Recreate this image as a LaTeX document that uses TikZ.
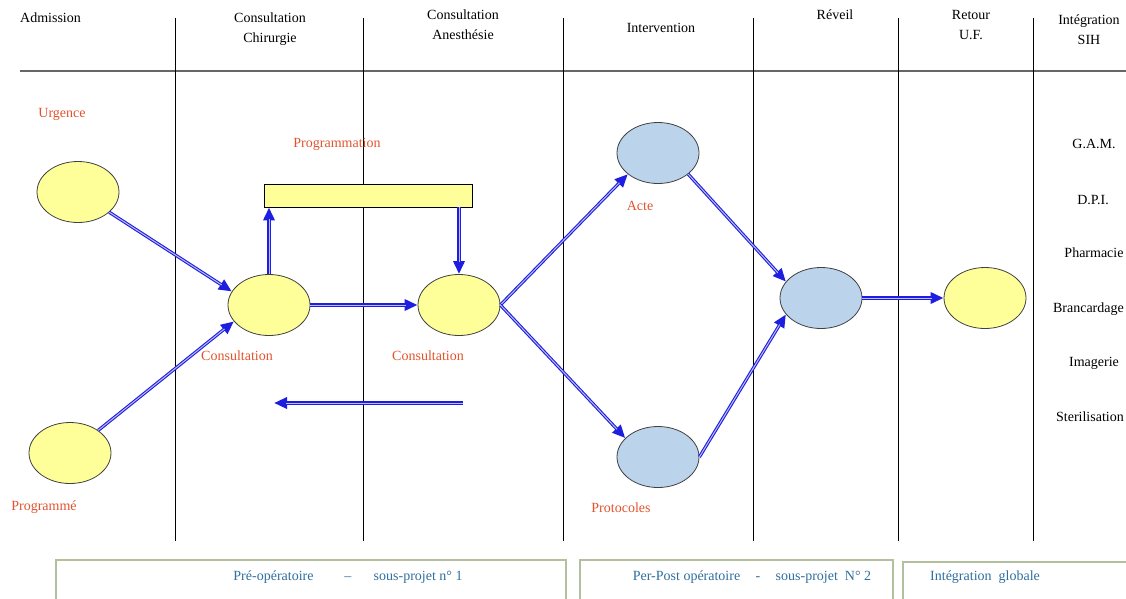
\documentclass[tikz,border=0pt]{standalone}
\usepackage{fontspec}
\setmainfont{Liberation Serif}
\usetikzlibrary{shapes.geometric,arrows.meta,positioning}
\definecolor{jaune}{RGB}{255,255,153}
\definecolor{bleuclair}{RGB}{187,212,236}
\definecolor{orange}{RGB}{226,83,45}
\definecolor{fluxbleu}{RGB}{30,30,225}
\definecolor{phasetxt}{RGB}{47,110,158}
\definecolor{phasebord}{RGB}{178,192,158}

\begin{document}
\begin{tikzpicture}[x=1pt, y=-1pt,
    font=\fontsize{14}{20}\selectfont,
    couloir/.style={draw=black, line width=0.9pt},
    entete/.style={align=center, inner sep=0pt},
    etape/.style={ellipse, draw=black!75, line width=0.8pt, minimum width=82, minimum height=61, inner sep=0pt},
    etapej/.style={etape, fill=jaune},
    etapeb/.style={etape, fill=bleuclair},
    lbl/.style={text=orange, inner sep=0pt},
    sih/.style={inner sep=0pt},
    flux/.style={draw=fluxbleu, line width=3.2pt, -{Triangle[length=13pt,width=11pt]},
        postaction={draw=white!70!fluxbleu, line width=1pt, -, shorten >=12pt}},
    cadre/.style={draw=phasebord, line width=1.2pt},
    phase/.style={text=phasetxt, inner sep=0pt}
]
\useasboundingbox (0,0) rectangle (1126,598);
\clip (0,0) rectangle (1126,598);

% Couloirs
\draw[draw=black!60, line width=2pt] (20,71) -- (1126,71);
\foreach \x in {175,363,563,753,898,1033}
    \draw[couloir] (\x,18) -- (\x,541);

% En-tetes
\node[entete, anchor=west] (hadm) at (20,18) {Admission};
\node[entete] (hchir) at (270,29) {Consultation\\Chirurgie};
\node[entete] (hanes) at (463,25) {Consultation\\Anesthésie};
\node[entete] (hint) at (661,28) {Intervention};
\node[entete] (hrev) at (835,15) {Réveil};
\node[entete] (hret) at (971,25) {Retour\\U.F.};
\node[entete] (hsih) at (1089,30) {Intégration\\SIH};

% Etapes
\node[etapej] (urg) at (78,192) {};
\node[etapej] (prog) at (70,453) {};
\node[etapej] (cchir) at (269,305) {};
\node[etapej] (canes) at (459,305) {};
\node[etapeb] (acte) at (658,153) {};
\node[etapeb] (proto) at (658,457) {};
\node[etapeb] (reveil) at (821,298) {};
\node[etapej] (retour) at (985,298) {};
\node[draw=black, line width=0.8pt, fill=jaune, minimum width=208, minimum height=23, inner sep=0pt] (planif) at (368,195.5) {};

% Libelles
\node[lbl] (lurg) at (62,114) {Urgence};
\node[lbl] (lplanif) at (337,144) {Programmation};
\node[lbl] (lchir) at (237,356) {Consultation};
\node[lbl] (lanes) at (428,356) {Consultation};
\node[lbl] (lacte) at (640,206) {Acte};
\node[lbl] (lproto) at (621,508) {Protocoles};
\node[lbl] (lprog) at (44,507) {Programmé};

% Systemes
\node[sih] (gam) at (1094,144) {G.A.M.};
\node[sih] (dpi) at (1093,200) {D.P.I.};
\node[sih] (pharma) at (1094,253) {Pharmacie};
\node[sih, anchor=east] (branc) at (1124,309) {Brancardage};
\node[sih] (imag) at (1094,363) {Imagerie};
\node[sih, anchor=east] (steril) at (1124,417) {Sterilisation};

% Flux
\draw[flux] (urg) -- (cchir.160);
\draw[flux] (prog) -- (cchir.205);
\draw[flux] (cchir.north) -- (cchir.north |- planif.south);
\draw[flux] (canes.north |- planif.south) -- (canes.north);
\draw[flux] (cchir) -- (canes);
\draw[flux] (canes.east) -- (acte.215);
\draw[flux] (canes.east) -- (proto.150);
\draw[flux] (acte.-35) -- (reveil.155);
\draw[flux] (proto.east) -- (reveil.205);
\draw[flux] (reveil) -- (retour);
\coordinate (retA) at (463,403);
\coordinate (retB) at (274,403);
\draw[flux] (retA) -- (retB);

% Phases
\draw[cadre] (56,560) rectangle (566,620);
\draw[cadre] (580,560) rectangle (893,620);
\draw[cadre] (903,562) rectangle (1140,620);
\node[phase] (pre) at (348,577) {Pré-opératoire\hspace{2.2em}–\hspace{1.6em}sous-projet n° 1};
\node[phase] (perpost) at (752,577) {Per-Post opératoire\hspace{1.1em}-\hspace{1.1em}sous-projet\ \ N° 2};
\node[phase, anchor=west] (glob) at (930,577) {Intégration\ \ globale};

\end{tikzpicture}
\end{document}
